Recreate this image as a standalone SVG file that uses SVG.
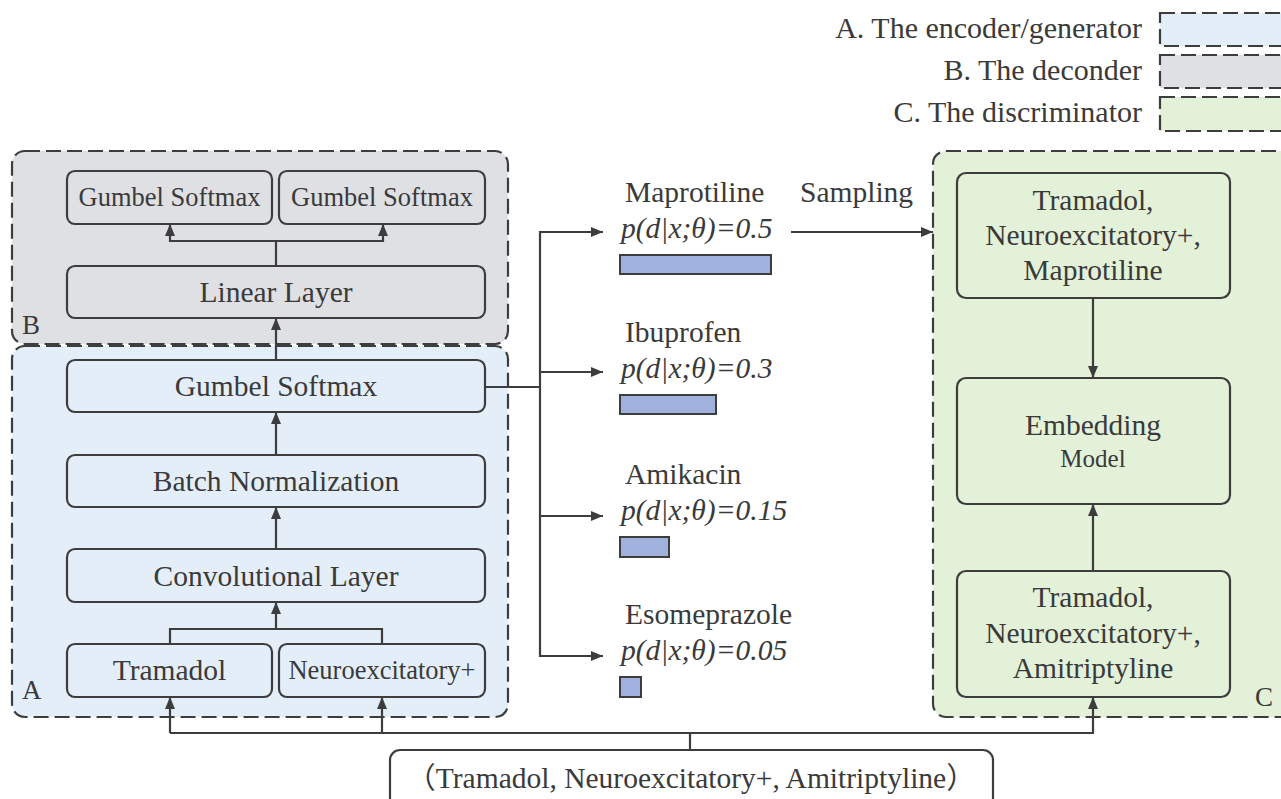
<svg xmlns="http://www.w3.org/2000/svg" width="1281" height="799" viewBox="0 0 1281 799">
<defs>
<marker id="ah" viewBox="0 0 12 12" refX="12" refY="6" markerWidth="12" markerHeight="12" markerUnits="userSpaceOnUse" orient="auto">
<path d="M0,1 L12,6 L0,11 Z" fill="#3d3d3d"/>
</marker>
</defs>
<style>
text{fill:#3a3a3a;font-size:29.5px}
.mid{text-anchor:middle}
.panel{stroke:#3d3d3d;stroke-width:2.2;stroke-dasharray:15 6}
.blue{fill:#e4eef9}
.gray{fill:#dfe0e4}
.green{fill:#e4f1d9}
.node{stroke:#3d3d3d;stroke-width:2.2}
.bar{fill:#9fb1dc;stroke:#3d3d3d;stroke-width:2}
.conn path{fill:none;stroke:#3d3d3d;stroke-width:2.2}
.it{font-style:italic}
</style>
<rect width="1281" height="799" fill="#ffffff"/>
<g font-family="Liberation Serif, Times New Roman, serif">
<g id="legend">
<text x="1142" y="38" text-anchor="end" style="font-size:30px">A. The encoder/generator</text>
<text x="1142" y="80" text-anchor="end" style="font-size:30px">B. The deconder</text>
<text x="1142" y="122" text-anchor="end" style="font-size:30px">C. The discriminator</text>
<rect class="panel blue" x="1160" y="13" width="140" height="33"/>
<rect class="panel gray" x="1160" y="55" width="140" height="33"/>
<rect class="panel green" x="1160" y="97" width="140" height="34"/>
</g>

<g id="panelB">
<rect class="panel gray" x="12" y="151" width="496" height="193" rx="13"/>
<text x="22" y="334" style="font-size:27px">B</text>
</g>
<g id="panelA">
<rect class="panel blue" x="12" y="346" width="496" height="371" rx="13"/>
<text x="22" y="699" style="font-size:27px">A</text>
</g>
<g id="panelC">
<rect class="panel green" x="933" y="151" width="380" height="566" rx="13"/>
<text x="1255" y="706" style="font-size:27px">C</text>
</g>

<g id="b-gumbel1">
<rect class="node gray" x="67" y="171" width="205" height="53" rx="8"/>
<text class="mid" x="169.5" y="206" style="font-size:26.5px">Gumbel Softmax</text>
</g>
<g id="b-gumbel2">
<rect class="node gray" x="279" y="171" width="206" height="53" rx="8"/>
<text class="mid" x="382" y="206" style="font-size:26.5px">Gumbel Softmax</text>
</g>
<g id="linear">
<rect class="node gray" x="67" y="266" width="418" height="52" rx="8"/>
<text class="mid" x="276" y="302">Linear Layer</text>
</g>
<g id="a-gumbel">
<rect class="node blue" x="67" y="360" width="418" height="52" rx="8"/>
<text class="mid" x="276" y="396">Gumbel Softmax</text>
</g>
<g id="batchnorm">
<rect class="node blue" x="67" y="455" width="418" height="52" rx="8"/>
<text class="mid" x="276" y="491">Batch Normalization</text>
</g>
<g id="conv">
<rect class="node blue" x="67" y="549" width="418" height="53" rx="8"/>
<text class="mid" x="276" y="586">Convolutional Layer</text>
</g>
<g id="tramadol">
<rect class="node blue" x="67" y="644" width="205" height="53" rx="8"/>
<text class="mid" x="169.5" y="680">Tramadol</text>
</g>
<g id="neuro">
<rect class="node blue" x="279" y="644" width="206" height="53" rx="8"/>
<text class="mid" x="382" y="679" style="font-size:26.5px">Neuroexcitatory+</text>
</g>

<g id="d-maprotiline">
<text x="625" y="202">Maprotiline</text>
<text class="it" x="621" y="238">p(d|x;θ)=0.5</text>
<rect class="bar" x="620" y="255" width="151" height="19"/>
</g>
<g id="d-ibuprofen">
<text x="625" y="342">Ibuprofen</text>
<text class="it" x="621" y="378">p(d|x;θ)=0.3</text>
<rect class="bar" x="620" y="395" width="96" height="19"/>
</g>
<g id="d-amikacin">
<text x="625" y="484">Amikacin</text>
<text class="it" x="621" y="520">p(d|x;θ)=0.15</text>
<rect class="bar" x="620" y="537" width="49" height="20"/>
</g>
<g id="d-esomeprazole">
<text x="625" y="624">Esomeprazole</text>
<text class="it" x="621" y="660">p(d|x;θ)=0.05</text>
<rect class="bar" x="620" y="677" width="21" height="20"/>
</g>
<g id="sampling-label">
<text x="800" y="202">Sampling</text>
</g>

<g id="c-top">
<rect class="node green" x="957" y="173" width="273" height="125" rx="9"/>
<text class="mid" x="1093" y="210">Tramadol,</text>
<text class="mid" x="1093" y="245">Neuroexcitatory+,</text>
<text class="mid" x="1093" y="280">Maprotiline</text>
</g>
<g id="c-embed">
<rect class="node green" x="957" y="378" width="273" height="126" rx="9"/>
<text class="mid" x="1093" y="435">Embedding</text>
<text class="mid" x="1093" y="467" style="font-size:25px">Model</text>
</g>
<g id="c-bottom">
<rect class="node green" x="957" y="571" width="273" height="126" rx="9"/>
<text class="mid" x="1093" y="607">Tramadol,</text>
<text class="mid" x="1093" y="643">Neuroexcitatory+,</text>
<text class="mid" x="1093" y="678">Amitriptyline</text>
</g>
<g id="input">
<rect class="node" fill="#ffffff" x="390" y="750" width="603" height="70" rx="10"/>
<text class="mid" x="691" y="788" style="font-size:29.5px" font-family="Liberation Serif, Noto Sans CJK SC, serif">（Tramadol, Neuroexcitatory+, Amitriptyline）</text>
</g>
</g>
<g id="connectors" class="conn">
<path d="M276 266 V241 H170 V224" marker-end="url(#ah)"/>
<path d="M276 241 H383 V224" marker-end="url(#ah)"/>
<path d="M276 360 V318" marker-end="url(#ah)"/>
<path d="M276 455 V412" marker-end="url(#ah)"/>
<path d="M276 549 V507" marker-end="url(#ah)"/>
<path d="M170 644 V629 H382 V644"/>
<path d="M276 629 V602" marker-end="url(#ah)"/>
<path d="M485 387 H540 V232 H603" marker-end="url(#ah)"/>
<path d="M540 372 H603" marker-end="url(#ah)"/>
<path d="M540 387 V656 H603" marker-end="url(#ah)"/>
<path d="M540 516 H603" marker-end="url(#ah)"/>
<path d="M791 232 H933" marker-end="url(#ah)"/>
<path d="M1093 298 V378" marker-end="url(#ah)"/>
<path d="M1093 571 V504" marker-end="url(#ah)"/>
<path d="M690 750 V733"/>
<path d="M170 733 H1093 V697" marker-end="url(#ah)"/>
<path d="M170 733 V697" marker-end="url(#ah)"/>
<path d="M382 733 V697" marker-end="url(#ah)"/>
</g>
</svg>
